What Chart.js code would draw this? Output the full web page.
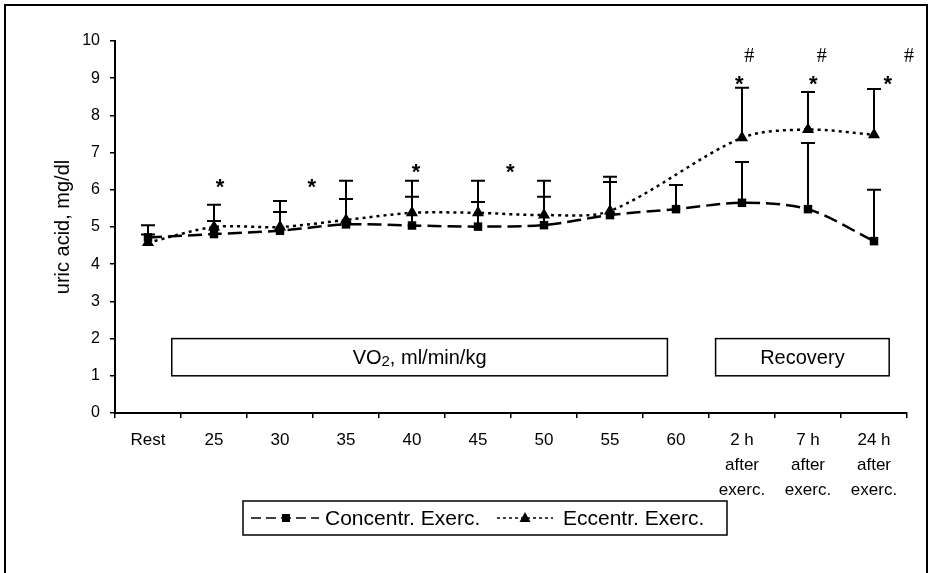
<!DOCTYPE html>
<html>
<head>
<meta charset="utf-8">
<script src="https://cdn.jsdelivr.net/npm/chart.js@4.4.0/dist/chart.umd.min.js"></script>
<style>
  body { margin: 0; background: #fff; }
  #wrap { width: 930px; height: 573px; }
</style>
</head>
<body>
<div id="wrap"><canvas id="uricChart"></canvas></div>
<script>
// x axis categories
const stages = ['Rest', '25', '30', '35', '40', '45', '50', '55', '60',
  ['2 h', 'after', 'exerc.'], ['7 h', 'after', 'exerc.'], ['24 h', 'after', 'exerc.']];

// mean uric acid, mg/dl
const concentric = [4.72, 4.81, 4.90, 5.07, 5.04, 5.01, 5.05, 5.32, 5.48, 5.65, 5.48, 4.62];
const eccentric  = [4.58, 5.00, 5.00, 5.19, 5.38, 5.38, 5.32, 5.43, null, 7.40, 7.62, 7.48];

// +SD (upper error bars only)
const concentricSD = [0.08, 0.35, 0.50, 0.68, 0.77, 0.66, 0.76, 0.89, 0.65, 1.10, 1.78, 1.38];
const eccentricSD  = [0.47, 0.60, 0.70, 1.05, 0.86, 0.86, 0.92, 0.92, null, 1.34, 1.01, 1.23];

// y axis ticks
const yTicks = [0, 1, 2, 3, 4, 5, 6, 7, 8, 9, 10];

// significance marks (category position, value)
const starX = [1.09, 2.48, 4.06, 5.49, 8.96, 10.08, 11.21];
const starY = [6.18, 6.18, 6.59, 6.59, 8.95, 8.95, 8.95];
const hashX = [9.11, 10.21, 11.53];
const hashY = [9.57, 9.57, 9.57];

// phase boxes (category range, value range)
const phaseText  = ['VO2', 'Recovery'];
const phaseStart = [0.36, 8.60];
const phaseEnd   = [7.87, 11.23];
const phaseLow   = [1, 1];
const phaseHigh  = [2, 2];

const sdLists = [concentricSD, eccentricSD];
const FONT = '"Liberation Sans", Arial, sans-serif';

function drawMarker(ctx, style, x, y) {
  ctx.fillStyle = '#000';
  ctx.beginPath();
  if (style === 'rect') {
    ctx.rect(x - 4, y - 4, 8, 8);
  } else {
    ctx.moveTo(x, y - 6);
    ctx.lineTo(x + 5.5, y + 4);
    ctx.lineTo(x - 5.5, y + 4);
    ctx.closePath();
  }
  ctx.fill();
}

const extras = {
  id: 'extras',
  beforeDatasetsDraw(chart) {
    const ctx = chart.ctx;
    const xs = chart.scales.x, ys = chart.scales.y;
    ctx.save();
    ctx.strokeStyle = '#000';
    ctx.lineWidth = 2;
    chart.data.datasets.forEach((ds, d) => {
      ds.data.forEach((v, i) => {
        const sd = sdLists[d][i];
        if (v == null || sd == null) return;
        const x = xs.getPixelForValue(i);
        const y0 = ys.getPixelForValue(v);
        const y1 = ys.getPixelForValue(v + sd);
        ctx.beginPath();
        ctx.moveTo(x, y0);
        ctx.lineTo(x, y1);
        ctx.moveTo(x - 7, y1);
        ctx.lineTo(x + 7, y1);
        ctx.stroke();
      });
    });
    ctx.restore();
  },
  afterDraw(chart) {
    const ctx = chart.ctx;
    const xs = chart.scales.x, ys = chart.scales.y;
    ctx.save();
    ctx.fillStyle = '#000';
    ctx.strokeStyle = '#000';

    // phase boxes
    ctx.lineWidth = 1.5;
    phaseText.forEach((t, i) => {
      const l = xs.getPixelForValue(phaseStart[i]);
      const r = xs.getPixelForValue(phaseEnd[i]);
      const top = ys.getPixelForValue(phaseHigh[i]);
      const bot = ys.getPixelForValue(phaseLow[i]);
      ctx.strokeRect(l, top, r - l, bot - top);
      const cx = (l + r) / 2, cy = (top + bot) / 2 + 1;
      ctx.textBaseline = 'middle';
      if (t === 'VO2') {
        const big = '20px ' + FONT, small = '15px ' + FONT;
        ctx.font = big;
        const w1 = ctx.measureText('VO').width;
        const w3 = ctx.measureText(', ml/min/kg').width;
        ctx.font = small;
        const w2 = ctx.measureText('2').width;
        let x = cx - (w1 + w2 + w3) / 2;
        ctx.textAlign = 'left';
        ctx.font = big;
        ctx.fillText('VO', x, cy);
        ctx.font = small;
        ctx.fillText('2', x + w1, cy + 4);
        ctx.font = big;
        ctx.fillText(', ml/min/kg', x + w1 + w2, cy);
      } else {
        ctx.font = '20px ' + FONT;
        ctx.textAlign = 'center';
        ctx.fillText(t, cx, cy);
      }
    });

    // significance marks
    ctx.textAlign = 'center';
    ctx.textBaseline = 'middle';
    ctx.font = 'bold 22px ' + FONT;
    starX.forEach((v, i) => {
      ctx.fillText('*', xs.getPixelForValue(v), ys.getPixelForValue(starY[i]) + 5);
    });
    ctx.font = '20px "Liberation Serif", "Times New Roman", serif';
    hashX.forEach((v, i) => {
      ctx.fillText('#', xs.getPixelForValue(v), ys.getPixelForValue(hashY[i]));
    });

    // legend
    const ly = 518;
    ctx.lineWidth = 1.5;
    ctx.strokeRect(243, 501, 484, 34);
    ctx.setLineDash([10, 5]);
    ctx.beginPath(); ctx.moveTo(251, ly); ctx.lineTo(319, ly); ctx.stroke();
    ctx.setLineDash([3, 3]);
    ctx.beginPath(); ctx.moveTo(497, ly); ctx.lineTo(553, ly); ctx.stroke();
    ctx.setLineDash([]);
    drawMarker(ctx, 'rect', 286, ly);
    drawMarker(ctx, 'triangle', 525, ly);
    ctx.font = '21px ' + FONT;
    ctx.textAlign = 'left';
    ctx.fillText(chart.data.datasets[0].label, 325, ly + 1);
    ctx.fillText(chart.data.datasets[1].label, 563, ly + 1);

    // outer frame
    ctx.lineWidth = 2;
    ctx.strokeRect(5, 5, 922, 575);
    ctx.restore();
  }
};

new Chart(document.getElementById('uricChart'), {
  type: 'line',
  data: {
    labels: stages,
    datasets: [{
      label: 'Concentr. Exerc.',
      data: concentric,
      borderColor: '#000',
      backgroundColor: '#000',
      borderWidth: 2.5,
      borderDash: [14, 6],
      tension: 0.3,
      pointStyle: 'rect',
      pointRadius: 6,
      pointHoverRadius: 6,
      pointBorderWidth: 0
    }, {
      label: 'Eccentr. Exerc.',
      data: eccentric,
      borderColor: '#000',
      backgroundColor: '#000',
      borderWidth: 2.5,
      borderDash: [3, 4],
      tension: 0.3,
      spanGaps: true,
      pointStyle: 'triangle',
      pointRadius: 7,
      pointHoverRadius: 7,
      pointBorderWidth: 0
    }]
  },
  options: {
    responsive: true,
    maintainAspectRatio: false,
    animation: false,
    layout: { padding: { left: 0, top: 41, right: 23, bottom: 0 } },
    font: { family: FONT },
    scales: {
      x: {
        offset: true,
        grid: { offset: true, drawOnChartArea: false, color: '#000', lineWidth: 1.5, tickLength: 5 },
        border: { color: '#000', width: 2 },
        ticks: {
          color: '#000',
          font: { family: FONT, size: 17, lineHeight: 25 / 17 },
          padding: 10,
          maxRotation: 0,
          autoSkip: false
        },
        afterFit(s) { s.height = 160; }
      },
      y: {
        min: 0,
        max: 10,
        afterBuildTicks(s) { s.ticks = yTicks.map(v => ({ value: v })); },
        ticks: { color: '#000', font: { family: FONT, size: 16 }, padding: 10 },
        grid: { drawOnChartArea: false, color: '#000', lineWidth: 1.5, tickLength: 5 },
        border: { color: '#000', width: 2 },
        title: {
          display: true,
          text: 'uric acid, mg/dl',
          color: '#000',
          font: { family: FONT, size: 20 },
          padding: { top: 51, bottom: 0 }
        },
        afterFit(s) { s.width = 115; }
      }
    },
    plugins: {
      legend: { display: false },
      tooltip: { enabled: false }
    }
  },
  plugins: [extras]
});
</script>
</body>
</html>
